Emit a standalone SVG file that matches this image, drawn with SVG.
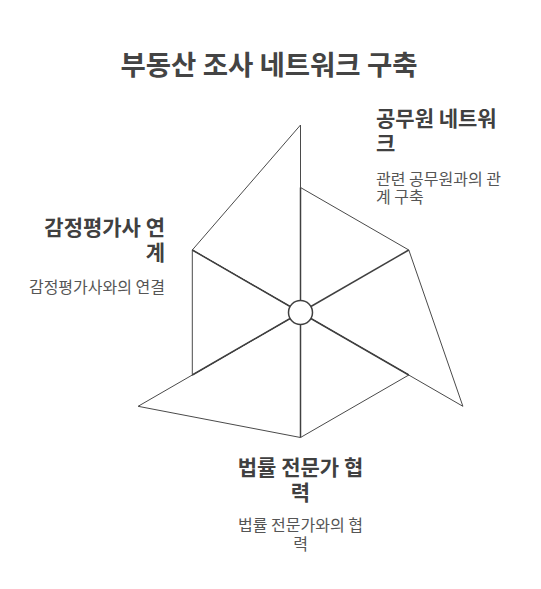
<svg xmlns="http://www.w3.org/2000/svg" width="541" height="589" viewBox="0 0 541 589">
<style>
.title{font-family:"Noto Sans CJK KR","Noto Sans",sans-serif;font-size:27.5px;font-weight:bold;fill:#444444}
.lbl{font-family:"Noto Sans CJK KR","Noto Sans",sans-serif;font-size:21px;font-weight:bold;fill:#404040}
.desc{font-family:"Noto Sans CJK KR","Noto Sans",sans-serif;font-size:16px;fill:#555555}
.blade{fill:#ffffff;stroke:#4a4a4a;stroke-width:1;stroke-linejoin:miter}
.spoke{stroke:#404040;stroke-width:1.5;fill:none}
.hub{fill:#ffffff;stroke:#404040;stroke-width:1.5}
</style>
<rect width="541" height="589" fill="#ffffff"/>
<text class="title" x="269" y="75" text-anchor="middle">부동산 조사 네트워크 구축</text>
<g id="blade-top">
<polygon class="blade" points="300.5,312.5 192.3,250 300.5,125 300.5,187.5"/>
</g>
<g id="blade-right">
<polygon class="blade" points="300.5,312.5 300.5,187.5 408.8,250 462.9,406.3"/>
</g>
<g id="blade-bottom">
<polygon class="blade" points="300.5,312.5 408.8,375 300.5,437.5 138.1,406.3"/>
</g>
<g id="blade-left">
<polygon class="blade" points="300.5,312.5 192.3,375 192.3,250"/>
</g>
<g id="connectors">
<line class="spoke" x1="300.5" y1="312.5" x2="300.5" y2="187.5"/>
<line class="spoke" x1="300.5" y1="312.5" x2="408.8" y2="250"/>
<line class="spoke" x1="300.5" y1="312.5" x2="408.8" y2="375"/>
<line class="spoke" x1="300.5" y1="312.5" x2="300.5" y2="437.5"/>
<line class="spoke" x1="300.5" y1="312.5" x2="192.3" y2="375"/>
<line class="spoke" x1="300.5" y1="312.5" x2="192.3" y2="250"/>
</g>
<g id="hub">
<circle class="hub" cx="300.5" cy="312.5" r="12"/>
</g>
<g id="node-officials">
<text class="lbl" x="376" y="126">공무원 네트워</text>
<text class="lbl" x="376" y="151">크</text>
<text class="desc" x="376" y="184.5">관련 공무원과의 관</text>
<text class="desc" x="376" y="203">계 구축</text>
</g>
<g id="node-appraisers">
<text class="lbl" x="165" y="235" text-anchor="end">감정평가사 연</text>
<text class="lbl" x="165" y="260" text-anchor="end">계</text>
<text class="desc" x="165" y="293" text-anchor="end">감정평가사와의 연결</text>
</g>
<g id="node-legal">
<text class="lbl" x="300.5" y="475" text-anchor="middle">법률 전문가 협</text>
<text class="lbl" x="300.5" y="500" text-anchor="middle">력</text>
<text class="desc" x="300.5" y="531" text-anchor="middle">법률 전문가와의 협</text>
<text class="desc" x="300.5" y="550" text-anchor="middle">력</text>
</g>
</svg>
